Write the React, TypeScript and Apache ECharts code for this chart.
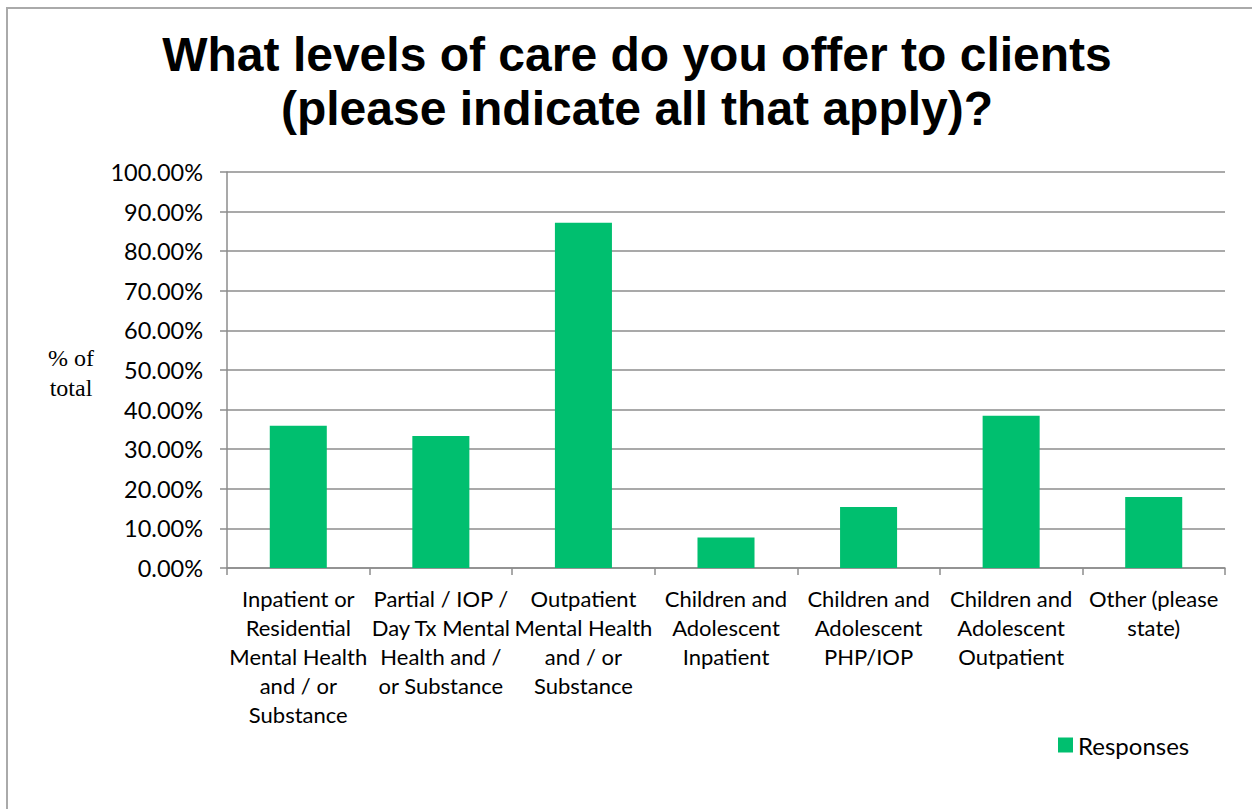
import React, { useEffect, useRef } from "react";
import * as echarts from "echarts";

const titleText = "What levels of care do you offer to clients\n(please indicate all that apply)?";
const categories = [
  "Inpatient or\nResidential\nMental Health\nand / or\nSubstance",
  "Partial / IOP /\nDay Tx Mental\nHealth and /\nor Substance",
  "Outpatient\nMental Health\nand / or\nSubstance",
  "Children and\nAdolescent\nInpatient",
  "Children and\nAdolescent\nPHP/IOP",
  "Children and\nAdolescent\nOutpatient",
  "Other (please\nstate)",
];
const responses = [35.9, 33.33, 87.18, 7.69, 15.38, 38.46, 17.95];
const seriesName = "Responses";
const yAxisTitle = "% of\ntotal";

export default function App() {
  const ref = useRef<HTMLDivElement>(null);
  useEffect(() => {
    if (!ref.current) return;
    const chart = echarts.init(ref.current, null, { renderer: "svg" });
    const labelFont = "Lato, 'Open Sans', sans-serif";
    chart.setOption({
      animation: false,
      backgroundColor: "#ffffff",
      title: {
        text: titleText,
        left: 632,
        top: 22,
        textAlign: "center",
        textStyle: {
          fontFamily: "'Liberation Sans', Arial, sans-serif",
          fontWeight: "bold",
          fontSize: 48,
          lineHeight: 54,
          color: "#000000",
        },
      },
      legend: {
        data: [seriesName],
        left: 1058,
        top: 733,
        padding: 0,
        itemWidth: 15,
        itemHeight: 15,
        itemGap: 8,
        textStyle: { fontFamily: labelFont, fontSize: 24, color: "#000" },
        icon: "rect",
      },
      graphic: [
        {
          type: "rect",
          shape: { x: 7, y: 8, width: 1400, height: 1000 },
          style: { fill: "none", stroke: "#aaaaaa", lineWidth: 2 },
          silent: true,
        },
        {
          type: "text",
          x: 71,
          y: 373,
          style: {
            text: yAxisTitle,
            fontFamily: "'Liberation Serif', 'DejaVu Serif', serif",
            fontSize: 24,
            lineHeight: 30,
            fill: "#000",
            align: "center",
            verticalAlign: "middle",
          },
        },
      ],
      grid: { left: 227, right: 27, top: 172, bottom: 241, containLabel: false },
      xAxis: {
        type: "category",
        data: categories,
        axisLine: { lineStyle: { color: "#8c8c8c", width: 1.5 } },
        axisTick: { show: true, length: 7, lineStyle: { color: "#8c8c8c", width: 1.5 } },
        axisLabel: {
          interval: 0,
          margin: 16,
          fontFamily: labelFont,
          fontSize: 22,
          lineHeight: 29,
          color: "#000",
        },
      },
      yAxis: {
        type: "value",
        min: 0,
        max: 100,
        interval: 10,
        axisLine: { show: true, lineStyle: { color: "#8c8c8c", width: 1.5 } },
        axisTick: { show: true, length: 7, lineStyle: { color: "#8c8c8c", width: 1.5 } },
        splitLine: { lineStyle: { color: "#8c8c8c", width: 1.5 } },
        axisLabel: {
          margin: 24,
          formatter: (v: number) => v.toFixed(2) + "%",
          fontFamily: labelFont,
          fontSize: 23.5,
          color: "#000",
        },
      },
      series: [
        {
          name: seriesName,
          type: "bar",
          data: responses,
          barWidth: "40%",
          itemStyle: { color: "#00bf6f" },
        },
      ],
    });
    return () => chart.dispose();
  }, []);
  return (
    <div
      ref={ref}
      style={{ position: "absolute", left: 0, top: 0, width: 1252, height: 809 }}
    />
  );
}
